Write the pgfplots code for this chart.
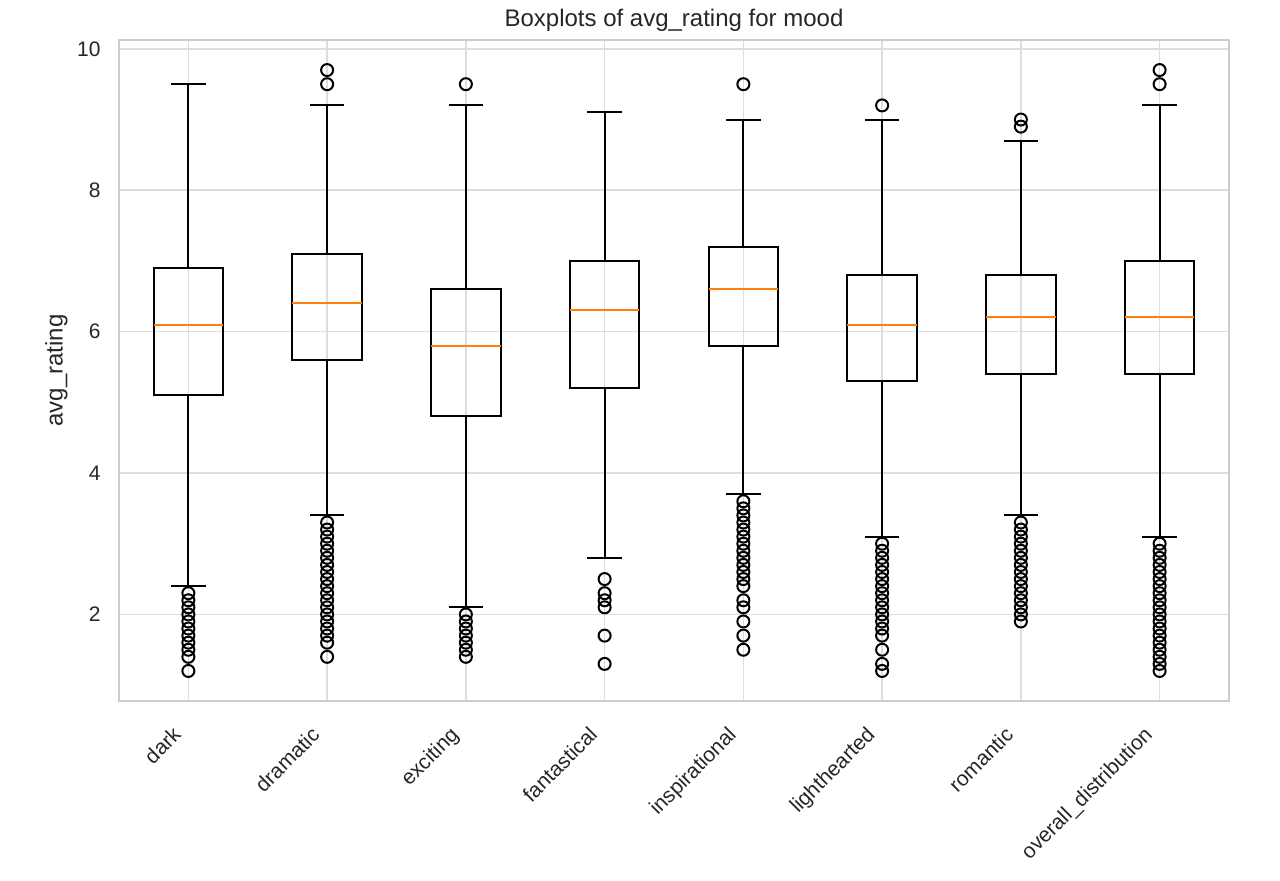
\documentclass[border=0pt]{standalone}
\usepackage{fontspec}
\setmainfont{Liberation Sans}
\usepackage{pgfplots}
\pgfplotsset{compat=1.18}
\usepgfplotslibrary{statistics}
\definecolor{mplorange}{HTML}{FF7F0E}
\definecolor{gridgray}{HTML}{DDDDDD}
\definecolor{framegray}{HTML}{CCCCCC}
\definecolor{txtgray}{HTML}{262626}
\begin{document}
\begin{tikzpicture}
\begin{axis}[
  name=ax,
  width=555pt, height=330.5pt, scale only axis,
  xmin=0.5, xmax=8.5, ymin=0.775, ymax=10.125,
  xtick={1,2,3,4,5,6,7,8},
  xticklabels={dark,dramatic,exciting,fantastical,inspirational,lighthearted,romantic,overall\_distribution},
  ytick={2,4,6,8,10},
  grid=major,
  major grid style={draw=gridgray, line width=0.8pt},
  axis line style={draw=framegray, line width=1.25pt},
  major tick length=0pt, tick style={draw=none},
  /pgf/number format/assume math mode=true,
  tick label style={font=\fontsize{10.5}{12}\selectfont, text=txtgray},
  yticklabel style={anchor=east, inner sep=0pt, xshift=-9pt},
  xticklabel style={xshift=-8.5pt, yshift=-12pt, rotate=45, anchor=north east, inner sep=0pt},
  title={Boxplots of avg\_rating for mood},
  every axis title/.style={at={(axis description cs:0.5,1)}, anchor=south, yshift=4pt, inner sep=0pt, font=\fontsize{12}{14}\selectfont, text=txtgray},
  ylabel={avg\_rating},
  every axis y label/.style={at={(axis description cs:0,0.5)}, xshift=-25.5pt, rotate=90, anchor=south, inner sep=0pt, font=\fontsize{12}{14}\selectfont, text=txtgray},
  boxplot/draw direction=y,
  boxplot/every median/.style={draw=mplorange, line width=1pt},
  every axis plot/.append style={black, line width=1pt, mark=o, mark size=3pt, mark options={solid, line width=1pt, draw=black, fill=none}},
]
% dark
\addplot[boxplot prepared={draw position=1, lower whisker=2.4, lower quartile=5.1, median=6.1, upper quartile=6.9, upper whisker=9.5, box extend=0.5, whisker extend=0.25}]
 table[row sep=\\, y index=0] {y\\ 1.2\\ 1.4\\ 1.5\\ 1.6\\ 1.7\\ 1.8\\ 1.9\\ 2.0\\ 2.1\\ 2.2\\ 2.3\\};
% dramatic
\addplot[boxplot prepared={draw position=2, lower whisker=3.4, lower quartile=5.6, median=6.4, upper quartile=7.1, upper whisker=9.2, box extend=0.5, whisker extend=0.25}]
 table[row sep=\\, y index=0] {y\\ 1.4\\ 1.6\\ 1.7\\ 1.8\\ 1.9\\ 2.0\\ 2.1\\ 2.2\\ 2.3\\ 2.4\\ 2.5\\ 2.6\\ 2.7\\ 2.8\\ 2.9\\ 3.0\\ 3.1\\ 3.2\\ 3.3\\ 9.5\\ 9.7\\};
% exciting
\addplot[boxplot prepared={draw position=3, lower whisker=2.1, lower quartile=4.8, median=5.8, upper quartile=6.6, upper whisker=9.2, box extend=0.5, whisker extend=0.25}]
 table[row sep=\\, y index=0] {y\\ 1.4\\ 1.5\\ 1.6\\ 1.7\\ 1.8\\ 1.9\\ 2.0\\ 9.5\\};
% fantastical
\addplot[boxplot prepared={draw position=4, lower whisker=2.8, lower quartile=5.2, median=6.3, upper quartile=7.0, upper whisker=9.1, box extend=0.5, whisker extend=0.25}]
 table[row sep=\\, y index=0] {y\\ 1.3\\ 1.7\\ 2.1\\ 2.2\\ 2.3\\ 2.5\\};
% inspirational
\addplot[boxplot prepared={draw position=5, lower whisker=3.7, lower quartile=5.8, median=6.6, upper quartile=7.2, upper whisker=9.0, box extend=0.5, whisker extend=0.25}]
 table[row sep=\\, y index=0] {y\\ 1.5\\ 1.7\\ 1.9\\ 2.1\\ 2.2\\ 2.4\\ 2.5\\ 2.6\\ 2.7\\ 2.8\\ 2.9\\ 3.0\\ 3.1\\ 3.2\\ 3.3\\ 3.4\\ 3.5\\ 3.6\\ 9.5\\};
% lighthearted
\addplot[boxplot prepared={draw position=6, lower whisker=3.1, lower quartile=5.3, median=6.1, upper quartile=6.8, upper whisker=9.0, box extend=0.5, whisker extend=0.25}]
 table[row sep=\\, y index=0] {y\\ 1.2\\ 1.3\\ 1.5\\ 1.7\\ 1.8\\ 1.9\\ 2.0\\ 2.1\\ 2.2\\ 2.3\\ 2.4\\ 2.5\\ 2.6\\ 2.7\\ 2.8\\ 2.9\\ 3.0\\ 9.2\\};
% romantic
\addplot[boxplot prepared={draw position=7, lower whisker=3.4, lower quartile=5.4, median=6.2, upper quartile=6.8, upper whisker=8.7, box extend=0.5, whisker extend=0.25}]
 table[row sep=\\, y index=0] {y\\ 1.9\\ 2.0\\ 2.1\\ 2.2\\ 2.3\\ 2.4\\ 2.5\\ 2.6\\ 2.7\\ 2.8\\ 2.9\\ 3.0\\ 3.1\\ 3.2\\ 3.3\\ 8.9\\ 9.0\\};
% overall_distribution
\addplot[boxplot prepared={draw position=8, lower whisker=3.1, lower quartile=5.4, median=6.2, upper quartile=7.0, upper whisker=9.2, box extend=0.5, whisker extend=0.25}]
 table[row sep=\\, y index=0] {y\\ 1.2\\ 1.3\\ 1.4\\ 1.5\\ 1.6\\ 1.7\\ 1.8\\ 1.9\\ 2.0\\ 2.1\\ 2.2\\ 2.3\\ 2.4\\ 2.5\\ 2.6\\ 2.7\\ 2.8\\ 2.9\\ 3.0\\ 9.5\\ 9.7\\};
\end{axis}
\pgfresetboundingbox
\path (ax.south west) ++(-59.5pt,-89.5pt) rectangle ++(640pt,440pt);
\end{tikzpicture}
\end{document}
